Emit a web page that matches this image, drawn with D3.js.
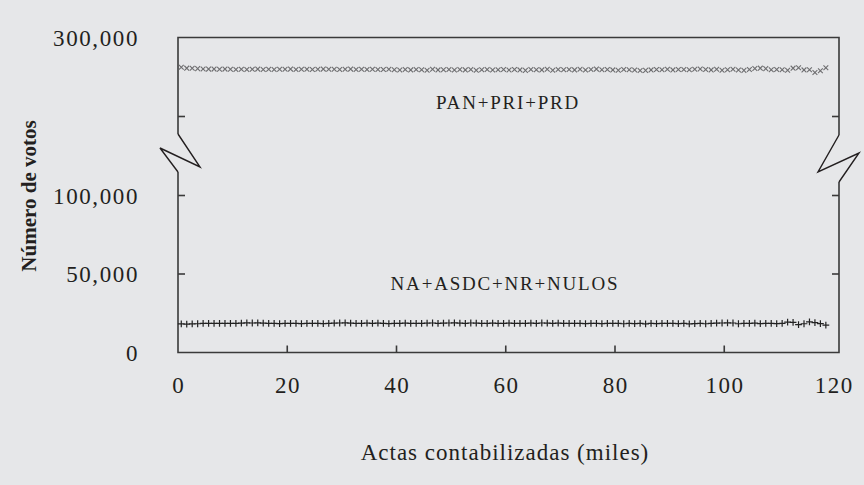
<!DOCTYPE html>
<html><head><meta charset="utf-8">
<script src="https://cdn.jsdelivr.net/npm/d3@7"></script>
<style>
html,body{margin:0;padding:0;background:#e6e7e9;}
svg{display:block;font-family:"Liberation Serif","Times New Roman",serif;}
</style></head>
<body>
<svg id="c" width="864" height="485"></svg>
<script>
// ---- data ----
const xTicks = [0, 20, 40, 60, 80, 100, 120];
const yTicks = [0, 50000, 100000, 250000, 300000];
const yTickLabels = ["0", "50,000", "100,000", "", "300,000"];
const seriesNames = ["PAN+PRI+PRD", "NA+ASDC+NR+NULOS"];
const panPriPrd = [281200, 280600, 280500, 280300, 280100, 280000, 280000, 279900, 280000, 279900,
  279800, 279900, 279800, 279900, 280000, 279800, 279900, 279800, 279900, 279900,
  280000, 279800, 279900, 279900, 279800, 279900, 280000, 279900, 279900, 279800,
  279900, 280000, 279800, 279900, 279800, 279900, 279800, 279700, 279900, 279600,
  279400, 279700, 279500, 279800, 279600, 279300, 279900, 279500, 279600, 279800,
  279400, 279800, 279500, 279700, 279300, 279600, 279800, 279400, 279600, 279800,
  279400, 279700, 279500, 279200, 279800, 279600, 279500, 279900, 279300, 279700,
  279600, 279800, 279500, 279900, 279400, 279700, 280000, 279600, 279800, 279500,
  279300, 279700, 279600, 279400, 279100, 279200, 279500, 279700, 279600, 279900,
  279500, 279800, 279700, 279600, 279900, 280100, 279700, 279500, 279900, 279300,
  279600, 279900, 279400, 279200, 279700, 280400, 280600, 280300, 279600, 279800,
  279600, 279300, 280600, 280800, 279500, 279600, 277800, 279000, 280900];
const naAsdcNrNulos = [18200, 18100, 18200, 18300, 18600, 18500, 18600, 18500, 18600, 18500,
  18600, 18700, 18900, 18800, 18900, 18700, 18500, 18600, 18400, 18500,
  18600, 18500, 18400, 18600, 18500, 18600, 18400, 18500, 18700, 18800,
  18900, 18700, 18600, 18500, 18700, 18600, 18700, 18500, 18400, 18600,
  18500, 18700, 18600, 18500, 18600, 18700, 18800, 18600, 18700, 18800,
  18900, 18700, 18600, 18800, 18700, 18600, 18500, 18700, 18600, 18500,
  18700, 18600, 18500, 18600, 18700, 18600, 18800, 18700, 18600, 18700,
  18600, 18500, 18600, 18500, 18400, 18600, 18500, 18400, 18500, 18600,
  18500, 18300, 18600, 18400, 18500, 18200, 18500, 18400, 18500, 18600,
  18500, 18400, 18500, 18200, 18400, 18500, 18300, 18600, 18700, 18800,
  18900, 18800, 18300, 18600, 18500, 18700, 18400, 18600, 18500, 18400,
  18600, 19300, 19200, 17800, 18300, 19500, 19000, 18400, 17500];
const actas = panPriPrd.map((d, i) => i + 0.6); // miles de actas

// ---- layout ----
const svg = d3.select("#c");
const L = 178, R = 839, T = 37.5, B = 352.5;
const x = d3.scaleLinear().domain([0, 120]).range([L, 833.5]);
const y = d3.scaleLinear().domain([0, 100000, 250000, 300000]).range([B, 195.5, 116.5, T]);
const frame = "#3a3a3a", ink = "#231f20";

// frame with breaks
const g = svg.append("g").attr("fill", "none").attr("stroke", frame).attr("stroke-width", 1.6);
g.append("path").attr("d", `M${L},134 L${L},${T} L${R},${T} L${R},135`);
g.append("path").attr("d", `M${L},172 L${L},${B} L${R},${B} L${R},182`);
g.append("path").attr("stroke", ink).attr("stroke-width", 1.4)
  .attr("d", `M${L},134 L200,167 L160,148 L${L},172`);
g.append("path").attr("stroke", ink).attr("stroke-width", 1.4)
  .attr("d", `M${R},135 L818,172 L859,153 L${R},182`);

// y ticks (inside) left and right
const tickY = yTicks.filter(v => v > 0 && v < 300000);
tickY.forEach(v => {
  g.append("line").attr("x1", L).attr("x2", L + 7).attr("y1", y(v)).attr("y2", y(v));
  g.append("line").attr("x1", R).attr("x2", R - 7).attr("y1", y(v)).attr("y2", y(v));
});
// x ticks (inside)
xTicks.filter(v => v > 0 && v < 120).forEach(v => {
  g.append("line").attr("x1", x(v)).attr("x2", x(v)).attr("y1", B).attr("y2", B - 7);
});

// tick labels
yTicks.forEach((v, i) => {
  if (!yTickLabels[i]) return;
  svg.append("text").attr("x", 139).attr("y", y(v)).attr("dy", "0.36em")
    .attr("text-anchor", "end").attr("font-size", 23).attr("letter-spacing", 1.6)
    .attr("fill", ink).text(yTickLabels[i]);
});
xTicks.forEach(v => {
  svg.append("text").attr("x", x(v) + 0.8).attr("y", 385).attr("dy", "0.36em")
    .attr("text-anchor", "middle").attr("font-size", 23).attr("letter-spacing", 1.6)
    .attr("fill", ink).text(v);
});

// axis titles
svg.append("text").attr("x", 505).attr("y", 452).attr("dy", "0.36em")
  .attr("text-anchor", "middle").attr("font-size", 23).attr("letter-spacing", 1)
  .attr("fill", ink).text("Actas contabilizadas (miles)");
svg.append("text").attr("transform", "translate(28,196) rotate(-90)").attr("dy", "0.36em")
  .attr("text-anchor", "middle").attr("font-size", 21).attr("font-weight", "bold")
  .attr("fill", ink).text("Número de votos");

// series labels
svg.append("text").attr("x", 508).attr("y", 102).attr("dy", "0.36em")
  .attr("text-anchor", "middle").attr("font-size", 19).attr("letter-spacing", 1.8)
  .attr("fill", ink).text(seriesNames[0]);
svg.append("text").attr("x", 505).attr("y", 283).attr("dy", "0.36em")
  .attr("text-anchor", "middle").attr("font-size", 19).attr("letter-spacing", 1.8)
  .attr("fill", ink).text(seriesNames[1]);

// markers
const s1 = 2.4;
svg.append("g").selectAll("path").data(panPriPrd).join("path")
  .attr("d", (d, i) => `M${x(actas[i]) - s1},${y(d) - s1}L${x(actas[i]) + s1},${y(d) + s1}M${x(actas[i]) - s1},${y(d) + s1}L${x(actas[i]) + s1},${y(d) - s1}`)
  .attr("stroke", "#6e6e70").attr("stroke-width", 1.1).attr("fill", "none");
const s2 = 3.4;
svg.append("g").selectAll("path").data(naAsdcNrNulos).join("path")
  .attr("d", (d, i) => `M${x(actas[i]) - s2},${y(d)}L${x(actas[i]) + s2},${y(d)}M${x(actas[i])},${y(d) - s2}L${x(actas[i])},${y(d) + s2}`)
  .attr("stroke", "#222").attr("stroke-width", 1.2).attr("fill", "none");
</script>
</body></html>
